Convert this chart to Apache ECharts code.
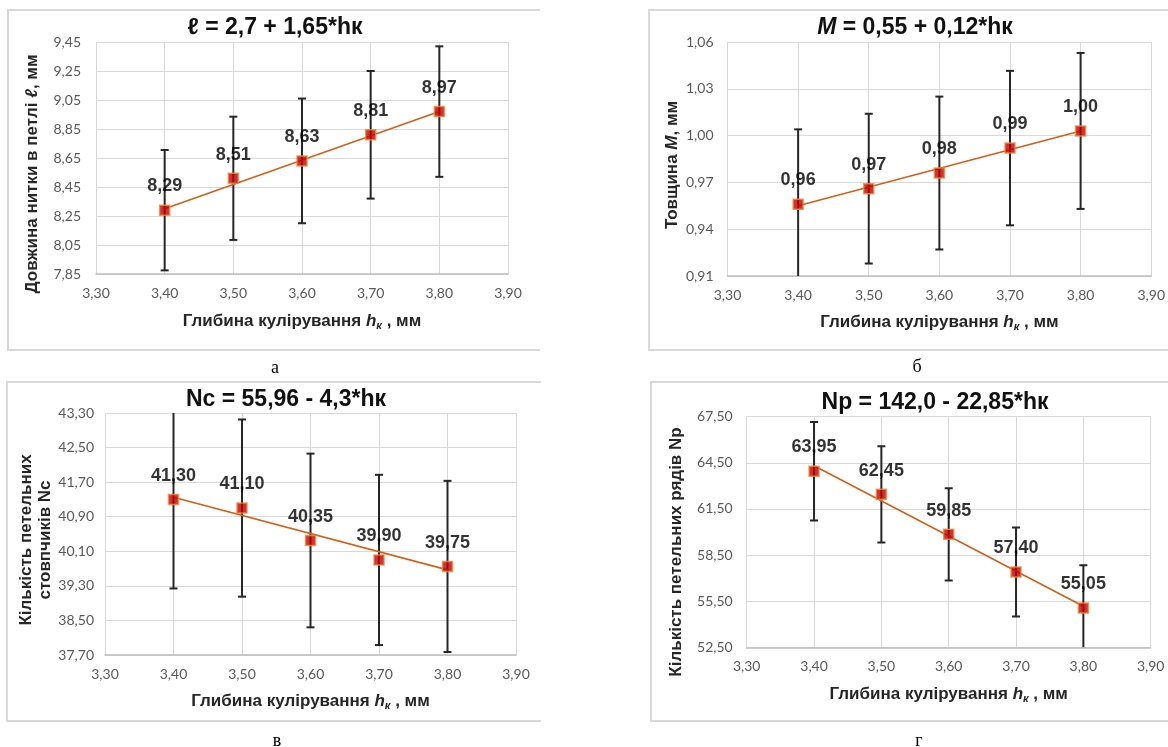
<!DOCTYPE html>
<html>
<head>
<meta charset="utf-8">
<script src="https://cdn.jsdelivr.net/npm/echarts@6/dist/echarts.min.js"></script>
<style>
html,body{margin:0;padding:0;background:#fff;}
#chart{width:1168px;height:747px;}
</style>
</head>
<body>
<div id="chart"></div>
<script>
// ---------- data ----------
const hk = [3.40, 3.50, 3.60, 3.70, 3.80];
const xRange = [3.30, 3.90, 0.10];

// а) loop length
const loopLength = [8.29, 8.51, 8.63, 8.81, 8.97];
const loopLengthErr = [0.415, 0.425, 0.43, 0.44, 0.45];
const loopLengthTrend = [8.30, 8.97];
const loopLengthY = [7.85, 9.45, 0.20];

// б) thickness
const thickness = [0.956, 0.966, 0.976, 0.992, 1.003];
const thicknessErr = [0.048, 0.048, 0.049, 0.0495, 0.050];
const thicknessTrend = [0.955, 1.003];
const thicknessY = [0.91, 1.06, 0.03];

// в) wales Nc
const wales = [41.30, 41.10, 40.35, 39.90, 39.75];
const walesErr = [2.06, 2.05, 2.01, 1.97, 1.98];
const walesTrend = [41.35, 39.67];
const walesY = [37.70, 43.30, 0.80];

// г) courses Np
const courses = [63.95, 62.45, 59.85, 57.40, 55.05];
const coursesErr = [3.21, 3.13, 3.00, 2.90, 2.78];
const coursesTrend = [64.31, 55.17];
const coursesY = [52.50, 67.50, 3.00];

// ---------- styling / layout ----------
const SANS = '"Liberation Sans", Arial, sans-serif';
const TICKF = 'Lato, "Open Sans", sans-serif';
const fmt = v => (Math.round(v * 100) / 100).toFixed(2).replace('.', ',');

const richAx = {
  b: {fontFamily: SANS, fontWeight: 'bold', fontSize: 17, color: '#262626'},
  bi: {fontFamily: SANS, fontWeight: 'bold', fontStyle: 'italic', fontSize: 17, color: '#262626'},
  sub: {fontFamily: SANS, fontWeight: 'bold', fontStyle: 'italic', fontSize: 11, color: '#262626', padding: [8, 0, 0, 0]}
};
const xName = '{b|Глибина кулірування }{bi|h}{sub|к}{b| , мм}';

const panels = [
  {grid: {left: 96, top: 42, width: 412, height: 232}, vals: loopLength, err: loopLengthErr, trend: loopLengthTrend, y: loopLengthY,
   yName: '{b|Довжина нитки в петлі }{bi|ℓ}{b|, мм}', yGap: 54, yShift: 32, yLabMargin: 15, xGap: 38},
  {grid: {left: 727.5, top: 42, width: 425.5, height: 234}, vals: thickness, err: thicknessErr, trend: thicknessTrend, y: thicknessY,
   yName: '{b|Товщина }{bi|M}{b|, мм}', yGap: 43, yShift: 12, yLabMargin: 14, xGap: 37},
  {grid: {left: 105, top: 413, width: 411, height: 242}, vals: wales, err: walesErr, trend: walesTrend, y: walesY,
   yName: '{b|Кількість петельних}\n{b|стовпчиків Nc}', yGap: 49, yShift: 12, yLabMargin: 11, xGap: 37},
  {grid: {left: 746.7, top: 416.7, width: 404, height: 230.6}, vals: courses, err: coursesErr, trend: coursesTrend, y: coursesY,
   yName: '{b|Кількість петельних рядів Np}', yGap: 61, yShift: 40, yLabMargin: 14, xGap: 38}
];

function errRender(params, api) {
  const x = api.value(0), lo = api.value(1), hi = api.value(2);
  const a = api.coord([x, lo]), b = api.coord([x, hi]);
  const w = 4;
  const st = {stroke: '#262626', lineWidth: 2};
  return {type: 'group', children: [
    {type: 'line', shape: {x1: a[0], y1: a[1], x2: b[0], y2: b[1]}, style: st},
    {type: 'line', shape: {x1: a[0] - w, y1: a[1], x2: a[0] + w, y2: a[1]}, style: st},
    {type: 'line', shape: {x1: b[0] - w, y1: b[1], x2: b[0] + w, y2: b[1]}, style: st}
  ]};
}

const grids = [], xAxes = [], yAxes = [], series = [];
panels.forEach((p, i) => {
  grids.push(p.grid);
  xAxes.push({
    type: 'value', gridIndex: i, min: xRange[0], max: xRange[1], interval: xRange[2],
    axisLine: {show: true, lineStyle: {color: '#BFBFBF', width: 1.5}},
    axisTick: {show: false},
    splitLine: {show: true, lineStyle: {color: '#D9D9D9', width: 1}},
    axisLabel: {formatter: fmt, fontFamily: TICKF, fontSize: 14, color: '#595959', margin: 12, showMinLabel: true, showMaxLabel: true},
    name: xName, nameLocation: 'middle', nameGap: p.xGap,
    nameTextStyle: {rich: richAx}
  });
  yAxes.push({
    type: 'value', gridIndex: i, min: p.y[0], max: p.y[1], interval: p.y[2],
    axisLine: {show: false}, axisTick: {show: false},
    splitLine: {show: true, lineStyle: {color: '#D9D9D9', width: 1}},
    axisLabel: {formatter: fmt, fontFamily: TICKF, fontSize: 14, color: '#595959', margin: p.yLabMargin, showMinLabel: true, showMaxLabel: true},
    name: p.yName, nameLocation: 'middle', nameGap: p.yGap, nameRotate: 90,
    nameTextStyle: {rich: richAx, lineHeight: 19, padding: [0, p.yShift, 0, 0]}
  });
  series.push({
    type: 'custom', xAxisIndex: i, yAxisIndex: i, clip: true, z: 2,
    renderItem: errRender,
    data: hk.map((x, k) => [x, p.vals[k] - p.err[k], p.vals[k] + p.err[k]])
  });
  series.push({
    type: 'line', xAxisIndex: i, yAxisIndex: i, z: 3, showSymbol: false, silent: true,
    lineStyle: {color: '#D0601A', width: 1.6},
    data: [[hk[0], p.trend[0]], [hk[hk.length - 1], p.trend[1]]]
  });
  series.push({
    type: 'scatter', xAxisIndex: i, yAxisIndex: i, z: 4,
    symbol: 'rect', symbolSize: 10,
    itemStyle: {color: '#C00000', borderColor: '#F0883A', borderWidth: 1.5},
    label: {show: true, position: 'top', distance: 9, formatter: q => fmt(q.value[1]),
      fontFamily: SANS, fontWeight: 'bold', fontSize: 18, color: '#000', textBorderWidth: 0},
    data: hk.map((x, k) => [x, p.vals[k]])
  });
});

const richTitle = {
  b: {fontFamily: SANS, fontWeight: 'bold', fontSize: 23, fill: '#111'},
  bi: {fontFamily: SANS, fontWeight: 'bold', fontStyle: 'italic', fontSize: 23, fill: '#111'}
};
function titleText(x, y, text) {
  return {type: 'text', x: x, y: y, z: 10, style: {text: text, rich: richTitle, align: 'center', verticalAlign: 'middle'}};
}
function caption(x, y, t) {
  return {type: 'text', x: x, y: y, z: 10, style: {text: t, fill: '#000', font: '18px "Liberation Serif", "DejaVu Serif", serif', align: 'center', verticalAlign: 'middle'}};
}
function box(pts) {
  return {type: 'polyline', z: 0, shape: {points: pts}, style: {stroke: '#D9D9D9', lineWidth: 2, fill: null}};
}

const chart = echarts.init(document.getElementById('chart'), null, {renderer: 'canvas'});
chart.setOption({
  animation: false,
  backgroundColor: '#fff',
  grid: grids, xAxis: xAxes, yAxis: yAxes, series: series,
  graphic: [
    box([[540, 10], [8, 10], [8, 350], [540, 350]]),
    box([[1168, 10], [649, 10], [649, 350], [1168, 350]]),
    box([[541, 382], [7, 382], [7, 721], [541, 721]]),
    box([[1168, 382], [651, 382], [651, 721], [1168, 721]]),
    titleText(275, 28, '{b|ℓ = 2,7 + 1,65*hк}'),
    titleText(915, 28, '{bi|M}{b| = 0,55 + 0,12*hк}'),
    titleText(286, 400, '{b|Nc = 55,96 - 4,3*hк}'),
    titleText(935, 403, '{b|Np = 142,0 - 22,85*hк}'),
    caption(275, 368, 'а'),
    caption(917, 367, 'б'),
    caption(277, 741, 'в'),
    caption(919, 741, 'г')
  ]
});
</script>
</body>
</html>
